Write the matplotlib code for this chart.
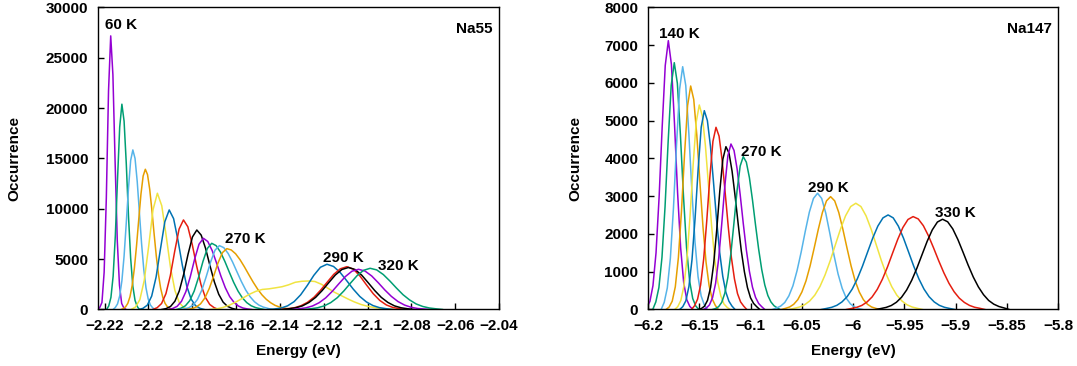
import numpy as np
import matplotlib
matplotlib.use("Agg")
from matplotlib import pyplot as plt

# ---- Na55 histograms (energy in eV, counts) ----
na55_start = [-2.2232, -2.2191, -2.2161, -2.2124, -2.2079, -2.2045, -2.198, -2.1939, -2.1909,
              -2.1871, -2.1856, -2.1822, -2.172, -2.1455, -2.1394, -2.1387, -2.1341, -2.1288]
na55_step = [0.001, 0.001, 0.001, 0.001, 0.002, 0.002, 0.002, 0.002, 0.002,
             0.002, 0.002, 0.002, 0.003, 0.003, 0.003, 0.003, 0.003, 0.003]
na55_counts = [
    [0, 200, 700, 3700, 11100, 21700, 27160, 23300, 14700, 6800, 2400, 600, 150, 0],
    [0, 350, 1200, 3300, 7300, 12900, 18100, 20380, 18700, 14500, 9300, 5100, 2300, 900, 300, 0],
    [0, 200, 550, 1350, 2850, 5300, 8600, 12000, 14800, 15840, 15000, 12700, 9600, 6500, 3950, 2150, 1050, 450, 180, 0],
    [0, 100, 270, 610, 1270, 2400, 4100, 6370, 8960, 11450, 13250, 13920, 13390, 11930, 9840, 7520, 5300, 3470, 2100, 1180, 610, 290, 130, 0],
    [0, 240, 980, 2880, 6230, 9890, 11540, 10300, 7330, 4160, 1890, 680, 200, 0],
    [0, 110, 430, 1330, 3210, 6000, 8710, 9880, 9020, 6870, 4370, 2320, 1030, 380, 120, 0],
    [0, 180, 590, 1570, 3350, 5770, 7980, 8890, 8210, 6460, 4330, 2470, 1200, 500, 180, 0],
    [0, 90, 300, 820, 1850, 3490, 5490, 7200, 7890, 7380, 6060, 4350, 2740, 1510, 730, 310, 120, 0],
    [0, 100, 310, 810, 1770, 3240, 5000, 6480, 7070, 6750, 5850, 4620, 3310, 2160, 1280, 700, 340, 150, 60, 0],
    [0, 130, 370, 890, 1830, 3200, 4770, 6060, 6570, 6340, 5700, 4770, 3720, 2700, 1830, 1150, 680, 370, 190, 90, 0],
    [0, 60, 170, 440, 1000, 1940, 3270, 4720, 5890, 6340, 6140, 5560, 4720, 3750, 2790, 1940, 1270, 770, 440, 240, 120, 0],
    [0, 90, 240, 560, 1150, 2100, 3330, 4640, 5650, 6040, 5910, 5530, 4950, 4240, 3470, 2720, 2040, 1460, 1010, 670, 410, 250, 140, 80, 0],
    [0, 60, 200, 430, 750, 1120, 1500, 1800, 1990, 2050, 2150, 2260, 2450, 2700, 2800, 2830, 2780, 2500, 2100, 1700, 1380, 1050, 750, 500, 320, 200, 110, 50, 0],
    [0, 50, 140, 360, 780, 1460, 2380, 3390, 4190, 4490, 4270, 3680, 2860, 2020, 1290, 750, 390, 180, 80, 0],
    [0, 80, 170, 370, 710, 1220, 1920, 2710, 3490, 4040, 4250, 4000, 3310, 2420, 1570, 900, 450, 200, 80, 0],
    [0, 75, 170, 360, 700, 1200, 1880, 2660, 3420, 3970, 4170, 3970, 3420, 2660, 1880, 1200, 700, 360, 170, 75, 0],
    [0, 75, 165, 350, 670, 1150, 1800, 2550, 3270, 3800, 3990, 3810, 3330, 2660, 1940, 1300, 790, 440, 220, 100, 45, 0],
    [0, 75, 170, 355, 680, 1170, 1840, 2610, 3350, 3890, 4090, 3930, 3470, 2830, 2130, 1470, 950, 550, 300, 150, 70, 0],
]
na55_labels = ["60 K", "270 K", "290 K", "320 K"]
na55_label_e = [-2.2198, -2.165, -2.1202, -2.0951]
na55_label_n = [28250, 7000, 5110, 4320]
na55_xticks = [-2.22, -2.2, -2.18, -2.16, -2.14, -2.12, -2.1, -2.08, -2.06, -2.04]
na55_yticks = [0, 5000, 10000, 15000, 20000, 25000, 30000]

# ---- Na147 histograms ----
na147_start = [-6.2012, -6.1954, -6.1872, -6.1824, -6.174, -6.1691, -6.1577, -6.151,
               -6.1461, -6.1371, -6.0786, -6.0699, -6.0623, -6.0308, -6.0064, -5.9777]
na147_step = [0.003, 0.003, 0.003, 0.003, 0.003, 0.003, 0.003, 0.003,
              0.003, 0.003, 0.004, 0.004, 0.005, 0.005, 0.005, 0.005]
na147_counts = [
    [60, 210, 630, 1500, 2970, 4830, 6460, 7116, 6490, 4930, 3110, 1640, 710, 260, 80, 0],
    [0, 200, 580, 1380, 2720, 4430, 5930, 6533, 5990, 4620, 2990, 1630, 750, 290, 90, 0],
    [0, 190, 570, 1360, 2680, 4360, 5830, 6427, 5930, 4670, 3130, 1790, 870, 360, 130, 0],
    [0, 65, 220, 600, 1370, 2590, 4100, 5400, 5916, 5560, 4610, 3370, 2190, 1250, 630, 280, 110, 0],
    [0, 75, 240, 620, 1350, 2480, 3830, 4960, 5413, 5120, 4330, 3280, 2220, 1350, 730, 360, 150, 60, 0],
    [0, 75, 230, 610, 1320, 2410, 3720, 4830, 5263, 5000, 4320, 3360, 2370, 1510, 880, 460, 220, 90, 0],
    [0, 95, 270, 650, 1340, 2350, 3500, 4450, 4823, 4590, 3950, 3080, 2180, 1380, 810, 420, 200, 90, 0],
    [0, 25, 85, 240, 580, 1200, 2100, 3130, 3980, 4310, 4140, 3660, 2990, 2250, 1550, 1000, 580, 310, 160, 75, 0],
    [0, 40, 120, 310, 690, 1340, 2260, 3260, 4070, 4381, 4210, 3720, 3040, 2280, 1580, 1010, 590, 320, 160, 75, 0],
    [0, 25, 75, 190, 430, 850, 1500, 2310, 3160, 3800, 4046, 3900, 3490, 2900, 2230, 1600, 1060, 650, 370, 200, 100, 45, 0],
    [0, 40, 90, 185, 360, 630, 1030, 1520, 2070, 2580, 2940, 3077, 2940, 2550, 2010, 1440, 940, 560, 300, 150, 65, 25, 0],
    [0, 30, 66, 137, 260, 463, 756, 1153, 1628, 2121, 2566, 2876, 2987, 2876, 2566, 2121, 1628, 1153, 756, 463, 260, 137, 66, 30, 0],
    [0, 31, 65, 124, 225, 380, 607, 914, 1288, 1707, 2123, 2480, 2725, 2812, 2725, 2480, 2123, 1707, 1288, 914, 607, 380, 225, 124, 65, 31, 0],
    [0, 28, 58, 110, 200, 338, 541, 813, 1147, 1520, 1890, 2208, 2425, 2503, 2425, 2208, 1890, 1520, 1147, 813, 541, 338, 200, 110, 58, 28, 0],
    [0, 27, 57, 108, 197, 332, 531, 799, 1126, 1494, 1856, 2169, 2383, 2459, 2397, 2218, 1950, 1628, 1289, 971, 693, 470, 302, 187, 108, 59, 32, 0],
    [0, 26, 55, 105, 191, 323, 516, 776, 1094, 1450, 1804, 2107, 2315, 2389, 2322, 2133, 1851, 1517, 1175, 860, 597, 392, 239, 141, 79, 41, 0],
]
na147_labels = ["140 K", "270 K", "290 K", "330 K"]
na147_label_e = [-6.1893, -6.1094, -6.0443, -5.9203]
na147_label_n = [7280, 4180, 3225, 2548]
na147_xticks = [-6.2, -6.15, -6.1, -6.05, -6.0, -5.95, -5.9, -5.85, -5.8]
na147_yticks = [0, 1000, 2000, 3000, 4000, 5000, 6000, 7000, 8000]

# gnuplot default line colours
palette = ['#9400d3', '#009e73', '#56b4e9', '#e69f00', '#f0e442', '#0072b2', '#e51e10', '#000000']

plt.rcParams['font.family'] = ['Liberation Sans', 'DejaVu Sans']
plt.rcParams['font.weight'] = 'bold'
plt.rcParams['axes.labelweight'] = 'bold'


def panel(ax, starts, steps, counts, labels, lab_e, lab_n, xticks, yticks, xlim, ylim, name, ylab_x):
    for i, (s, d, c) in enumerate(zip(starts, steps, counts)):
        e = s + d * np.arange(len(c))
        ax.plot(e, c, color=palette[i % len(palette)], lw=1.1)
    for t, x, y in zip(labels, lab_e, lab_n):
        ax.text(x, y, t, fontsize=11, fontweight='bold', ha='left', va='center')
    ax.text(0.985, 0.928, name, transform=ax.transAxes, fontsize=11,
            fontweight='bold', ha='right', va='center')
    ax.set_xlim(*xlim)
    ax.set_ylim(*ylim)
    ax.set_xticks(xticks)
    ax.set_xticklabels([f"{v:g}".replace('-', '\u2212') for v in xticks])
    ax.set_yticks(yticks)
    ax.set_yticklabels([f"{v:g}" for v in yticks])
    ax.tick_params(direction='in', length=4, width=1, top=False, right=False,
                   labelsize=11, pad=7)
    for sp in ax.spines.values():
        sp.set_linewidth(1.0)
    ax.set_xlabel("Energy (eV)", fontsize=11, fontweight='bold')
    ax.set_ylabel("Occurrence", fontsize=11, fontweight='bold')
    ax.xaxis.set_label_coords(0.5, -0.115)
    ax.yaxis.set_label_coords(ylab_x, 0.5)


fig = plt.figure(figsize=(10.77, 3.66), dpi=100)
ax1 = fig.add_axes([0.091, 0.1544, 0.3723, 0.8257])
ax2 = fig.add_axes([0.6017, 0.1544, 0.3807, 0.8257])

panel(ax1, na55_start, na55_step, na55_counts, na55_labels, na55_label_e, na55_label_n,
      na55_xticks, na55_yticks, (-2.223, -2.04), (0, 30000), "Na55", -0.19)
panel(ax2, na147_start, na147_step, na147_counts, na147_labels, na147_label_e, na147_label_n,
      na147_xticks, na147_yticks, (-6.2, -5.8), (0, 8000), "Na147", -0.16)

fig.savefig("out.png", dpi=100)
